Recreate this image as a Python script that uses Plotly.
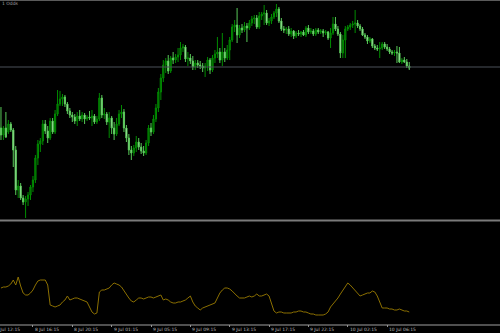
import plotly.graph_objects as go

# bar index (M15 bars), tick labels placed at every 16th bar
bars = list(range(3, 170))

open_ = [1091,1084,1091,1087,1095,1089,1069,1029,1033,1021,1017,1020,1024,1032,1039,1061,1075,1078,1095,1088,
         1081,1098,1087,1105,1115,1120,1122,1115,1108,1104,1102,1098,1103,1100,1104,1100,1102,1101,1103,1097,
         1100,1121,1104,1105,1097,1101,1091,1085,1095,1105,1107,1091,1081,1069,1066,1071,1077,1072,1068,1066,
         1076,1091,1087,1100,1111,1127,1141,1154,1158,1148,1161,1159,1162,1164,1171,1172,1160,1161,1158,1152,
         1156,1154,1153,1151,1153,1159,1149,1161,1165,1167,1159,1167,1161,1169,1179,1192,1194,1184,1191,1189,
         1193,1191,1196,1200,1201,1192,1203,1205,1206,1196,1198,1202,1206,1210,1198,1190,1189,1190,1185,1188,
         1183,1186,1185,1187,1184,1191,1187,1188,1185,1189,1187,1188,1186,1187,1181,1186,1195,1190,1185,1166,
         1179,1190,1192,1194,1195,1196,1193,1190,1184,1182,1178,1180,1173,1171,1170,1171,1175,1172,1170,1167,
         1166,1167,1166,1157,1159,1157,1153]
high = [1112,1093,1107,1099,1097,1091,1073,1039,1036,1024,1023,1027,1034,1043,1064,1079,1081,1099,1099,1093,
        1101,1101,1109,1129,1128,1125,1124,1117,1111,1107,1105,1107,1109,1107,1106,1104,1108,1109,1105,1103,
        1126,1124,1111,1107,1107,1103,1097,1101,1109,1114,1110,1094,1085,1073,1074,1083,1081,1076,1073,1079,
        1094,1096,1104,1115,1131,1145,1159,1161,1164,1163,1167,1165,1171,1177,1175,1174,1167,1165,1163,1159,
        1159,1158,1156,1156,1162,1161,1164,1169,1182,1171,1186,1171,1174,1182,1195,1199,1211,1194,1195,1197,
        1196,1199,1203,1204,1204,1207,1207,1214,1209,1201,1205,1208,1215,1212,1201,1193,1192,1193,1191,1189,
        1188,1189,1188,1189,1193,1194,1191,1190,1191,1191,1190,1190,1189,1188,1191,1202,1202,1193,1187,1184,
        1193,1194,1196,1198,1209,1199,1195,1192,1186,1184,1182,1181,1175,1174,1177,1177,1177,1175,1172,1169,
        1169,1173,1172,1161,1162,1160,1157]
low = [1079,1079,1081,1085,1087,1052,1024,1021,1019,1014,1001,1013,1019,1027,1036,1054,1067,1074,1085,1076,
       1079,1085,1085,1103,1113,1113,1112,1105,1101,1097,1095,1093,1098,1097,1095,1098,1099,1093,1095,1095,
       1098,1101,1100,1094,1081,1085,1079,1083,1093,1101,1087,1077,1064,1059,1063,1067,1069,1065,1063,1064,
       1073,1083,1085,1097,1107,1119,1137,1146,1145,1146,1155,1156,1157,1159,1167,1157,1153,1155,1149,1149,
       1151,1150,1147,1142,1148,1145,1147,1156,1161,1156,1153,1157,1159,1159,1177,1187,1176,1181,1186,1187,
       1177,1189,1193,1195,1190,1190,1199,1194,1194,1193,1195,1200,1202,1196,1188,1186,1185,1183,1182,1180,
       1181,1183,1182,1183,1182,1185,1185,1183,1183,1185,1185,1182,1184,1179,1171,1184,1188,1183,1161,1161,
       1161,1188,1189,1191,1186,1191,1188,1183,1180,1175,1176,1171,1169,1168,1161,1169,1170,1168,1165,1164,
       1163,1156,1156,1155,1156,1151,1149]
close = [1084,1091,1082,1095,1089,1069,1029,1033,1021,1017,1020,1024,1032,1039,1061,1075,1078,1095,1088,1081,
         1098,1087,1105,1115,1120,1122,1115,1108,1104,1102,1098,1103,1100,1104,1100,1102,1101,1103,1097,1100,
         1121,1104,1105,1097,1101,1091,1085,1095,1105,1107,1091,1081,1069,1066,1071,1077,1072,1068,1066,1076,
         1091,1087,1100,1111,1127,1141,1154,1158,1148,1161,1159,1162,1164,1171,1172,1160,1161,1158,1152,1156,
         1154,1153,1151,1153,1159,1149,1161,1165,1167,1159,1167,1161,1169,1179,1192,1194,1184,1191,1189,1193,
         1191,1196,1200,1201,1192,1203,1205,1206,1196,1198,1202,1206,1210,1198,1190,1189,1190,1185,1188,1183,
         1186,1185,1187,1184,1191,1187,1188,1185,1189,1187,1188,1186,1187,1181,1186,1195,1190,1185,1166,1179,
         1190,1192,1194,1195,1196,1193,1190,1184,1182,1178,1180,1173,1171,1170,1171,1175,1172,1170,1167,1166,
         1167,1166,1157,1159,1157,1153,1151]

indicator = [36,37,37,38,40,44,39,47,38,31,29,29,31,34,39,43,44,44,44,39,
             19,18,17,18,19,22,24,28,24,25,26,26,25,24,23,22,17,12,10,11,
             32,34,34,35,36,39,41,40,39,37,33,30,26,23,22,24,26,26,25,26,
             27,27,26,27,28,29,24,25,24,22,21,21,22,22,23,24,26,28,22,18,
             16,14,16,17,18,19,20,21,26,31,34,36,36,35,33,30,28,26,26,26,
             27,28,27,28,30,28,28,29,30,28,21,13,11,12,12,11,11,11,11,12,
             12,13,13,12,12,11,10,10,9,9,9,9,10,12,17,20,22,26,30,34,
             38,41,39,36,34,31,28,29,30,31,31,33,32,28,22,16,16,16,15,15,
             14,14,15,14,13,13,12]

tick_bars = [0, 16, 32, 48, 64, 80, 96, 112, 128, 144, 160]
tick_labels = ["8 Jul 12:15", "8 Jul 16:15", "8 Jul 20:15", "9 Jul 01:15", "9 Jul 05:15",
               "9 Jul 09:15", "9 Jul 13:15", "9 Jul 17:15", "9 Jul 22:15", "10 Jul 02:15",
               "10 Jul 06:15"]
level_price = 1152
x_range = [2.6, 205.9]

fig = go.Figure()
fig.add_trace(go.Candlestick(
    x=bars, open=open_, high=high, low=low, close=close,
    xaxis="x", yaxis="y", whiskerwidth=0,
    increasing=dict(line=dict(color="#008c00", width=1), fillcolor="#005a00"),
    decreasing=dict(line=dict(color="#58c858", width=1), fillcolor="#e8ffe8"),
    showlegend=False, hoverinfo="skip"))
fig.add_trace(go.Scatter(
    x=bars, y=indicator, xaxis="x2", yaxis="y2", mode="lines",
    line=dict(color="#8c7000", width=1), showlegend=False, hoverinfo="skip"))

H = 333.0
def py(px):
    return 1 - px / H

def pxr(b):
    return (b - x_range[0]) / (x_range[1] - x_range[0])

fig.update_layout(
    width=500, height=333,
    margin=dict(l=0, r=0, t=0, b=0),
    paper_bgcolor="#000000", plot_bgcolor="#000000",
    xaxis=dict(range=x_range, domain=[0, 1], anchor="y", visible=False,
               rangeslider=dict(visible=False), fixedrange=True),
    yaxis=dict(range=[1000, 1217], domain=[py(219), py(2)], visible=False),
    xaxis2=dict(range=x_range, domain=[0, 1], anchor="y2", showgrid=False,
                zeroline=False, showline=False, ticks="outside", ticklen=2,
                tickcolor="#909090", tickvals=tick_bars, showticklabels=False),
    yaxis2=dict(range=[0, 102], domain=[py(324), py(222)], visible=False),
    shapes=[
        dict(type="line", xref="paper", yref="paper", x0=0, x1=1, y0=py(0.5), y1=py(0.5),
             line=dict(color="#5a5a5a", width=1)),
        dict(type="line", xref="paper", yref="y", x0=0, x1=1, y0=level_price, y1=level_price,
             line=dict(color="#4a5058", width=1)),
        dict(type="line", xref="paper", yref="paper", x0=0, x1=1, y0=py(220.5), y1=py(220.5),
             line=dict(color="#7a7a7a", width=2)),
        dict(type="line", xref="paper", yref="paper", x0=0, x1=1, y0=py(325), y1=py(325),
             line=dict(color="#a0a0a0", width=1)),
    ],
    annotations=[
        dict(text=t, x=pxr(b), xref="paper", y=py(329), yref="paper", xanchor="left",
             yanchor="middle", showarrow=False,
             font=dict(family="DejaVu Sans", size=4.5, color="#b8b8b8"))
        for b, t in zip(tick_bars, tick_labels)
    ] + [
        dict(text="1 Odds", x=0, xref="paper", y=py(4), yref="paper", xanchor="left",
             yanchor="middle", showarrow=False,
             font=dict(family="DejaVu Sans", size=4.5, color="#a0a0a0"))
    ],
)

fig.write_html("out.html")
